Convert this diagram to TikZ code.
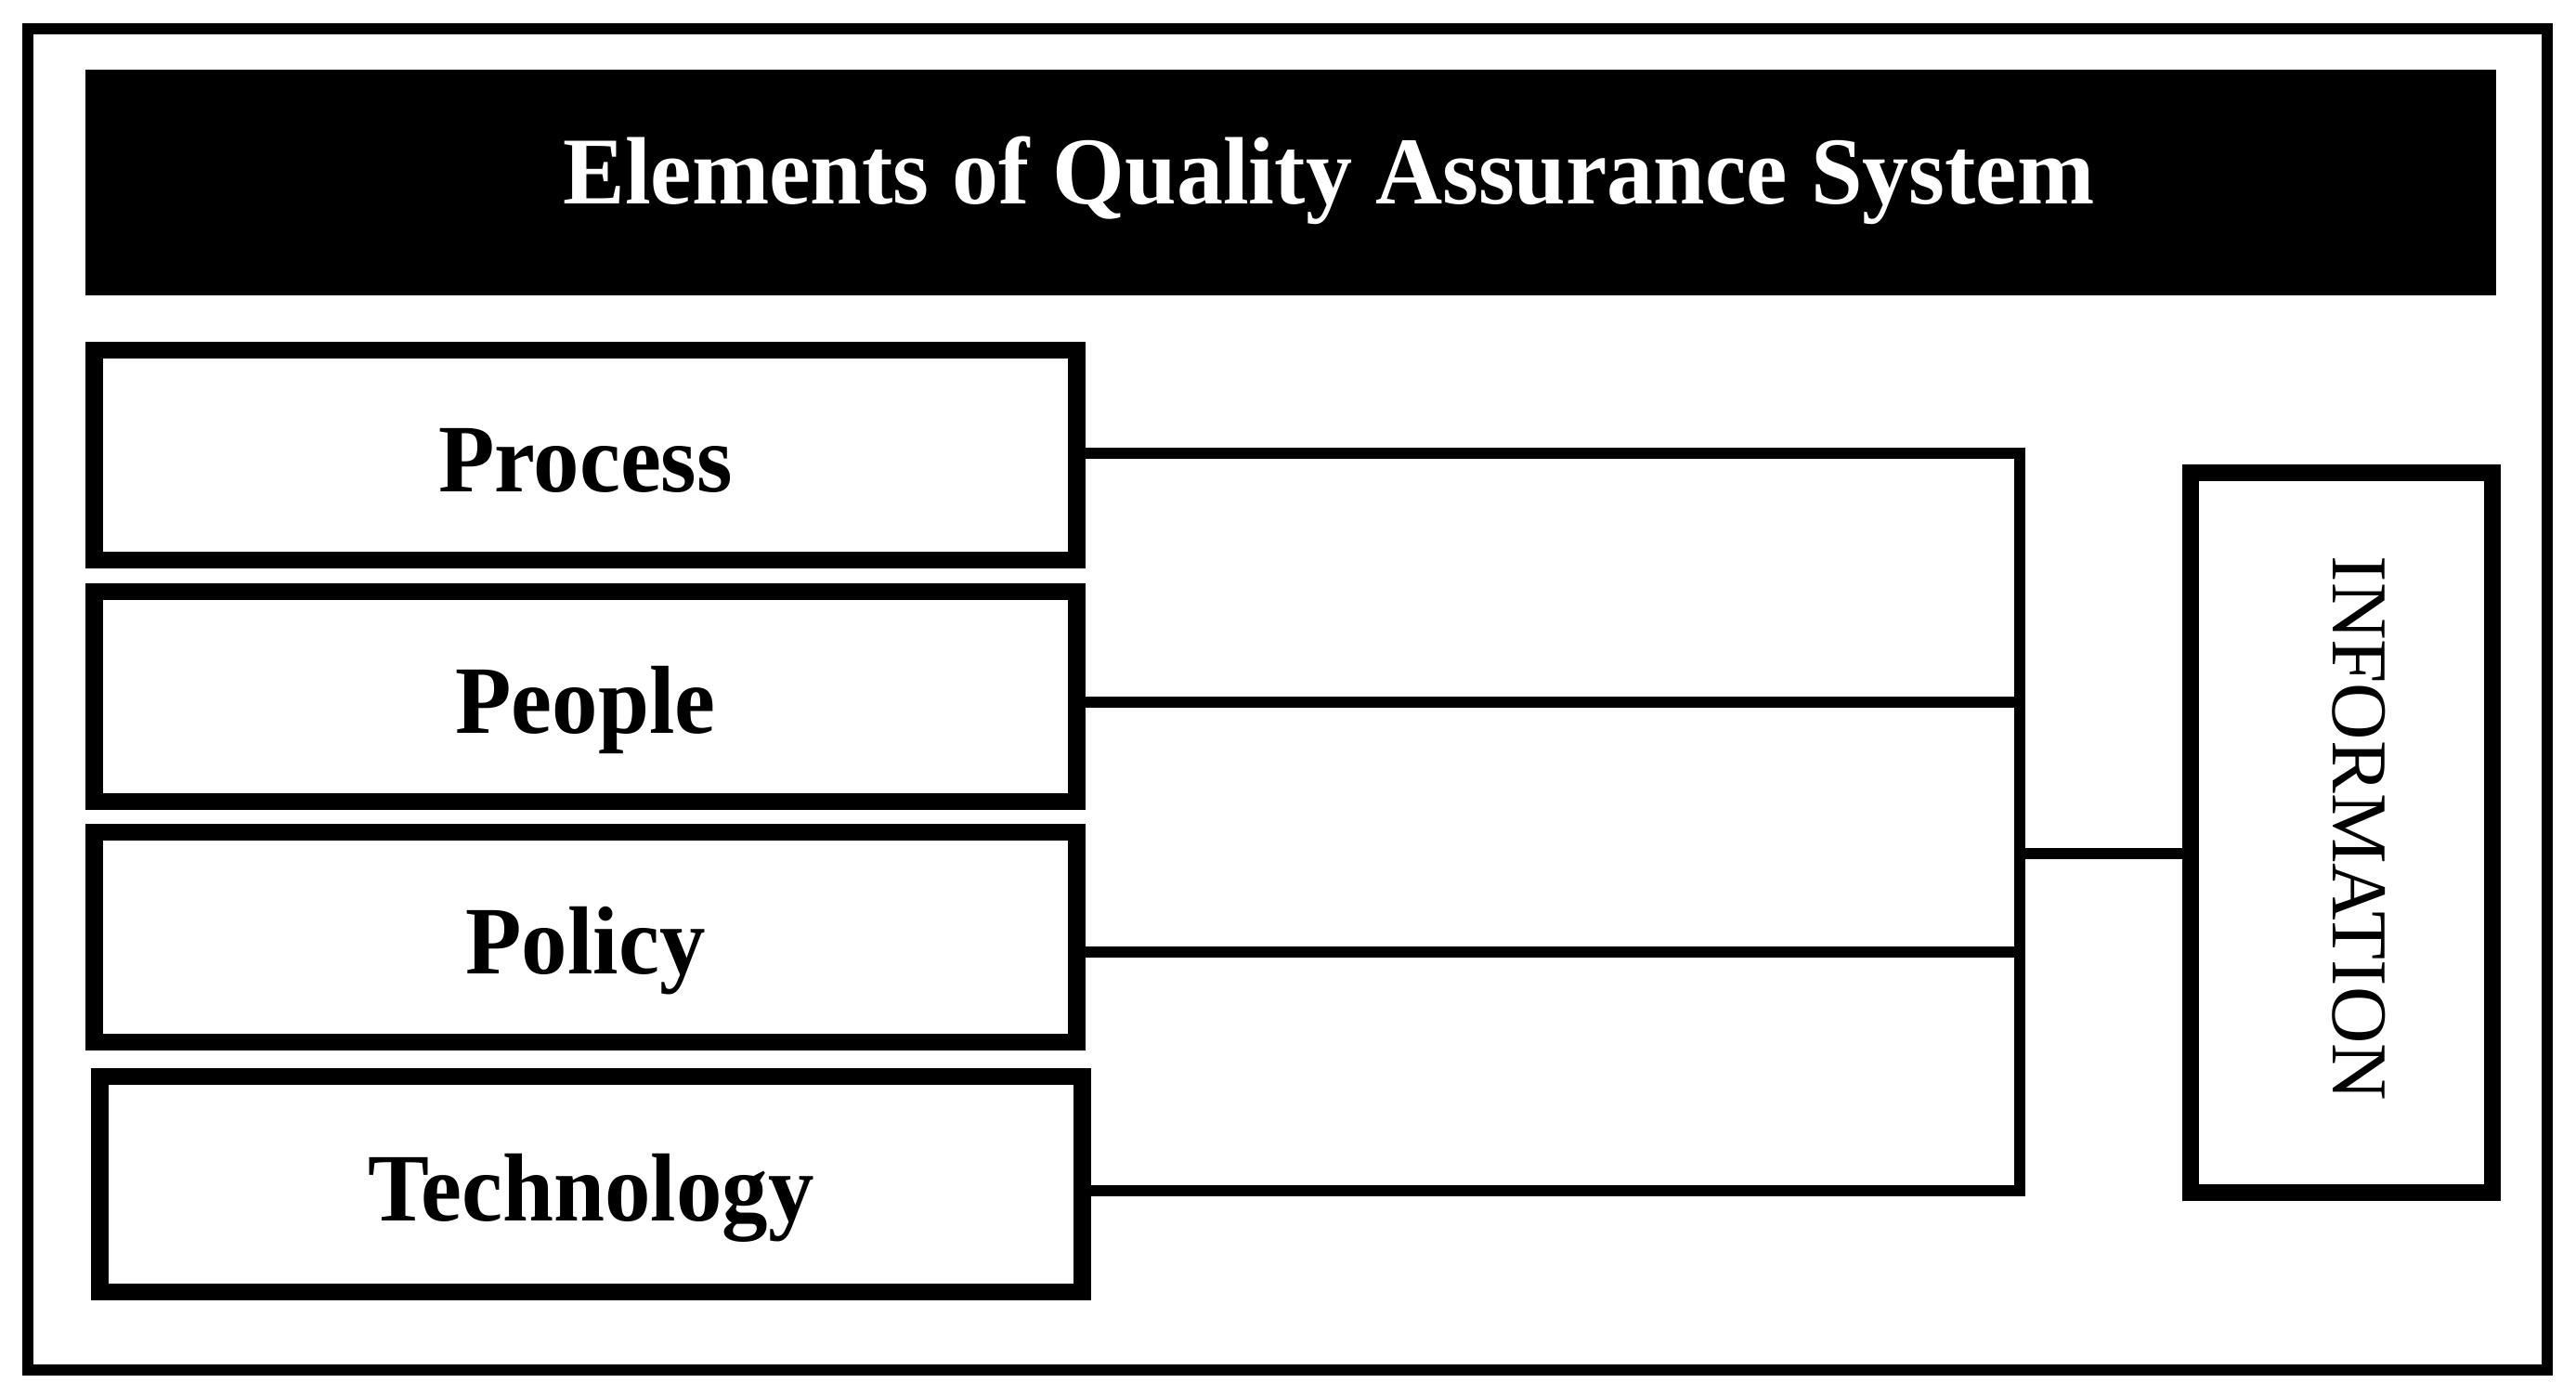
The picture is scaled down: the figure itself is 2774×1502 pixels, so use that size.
\documentclass[tikz,border=0pt]{standalone}
\usepackage{fontspec}
\setmainfont{Liberation Serif}
\begin{document}
\begin{tikzpicture}[x=0.01cm,y=-0.01cm,
  frame/.style={line width=0.12cm},
  elbox/.style={draw,line width=0.185cm,inner sep=0pt,minimum width=10.57cm,minimum height=2.26cm,
     text height=0.79cm,text depth=0pt,font=\fontsize{29.6}{32}\selectfont\bfseries},
  conn/.style={line width=0.12cm,line join=miter}]
\useasboundingbox (0,0) rectangle (2774,1502);
\draw[frame] (30,31) rectangle (2743,1475);
\node[fill=black,inner sep=0pt,minimum width=25.94cm,minimum height=2.43cm] (head) at (1390,196.5) {};
\node[anchor=base,text=white,inner sep=0pt,font=\fontsize{29.3}{32}\selectfont\bfseries] (title) at (1431,219)
  {\scalebox{0.97}[1]{Elements of Quality Assurance System}};
\node[elbox] (proc) at (630.5,490) {\scalebox{0.95}[1]{Process}};
\node[elbox] (peop) at (630.5,750) {\scalebox{0.95}[1]{People}};
\node[elbox,minimum height=2.26cm] (poli) at (630.5,1009) {\scalebox{0.95}[1]{Policy}};
\node[elbox,minimum height=2.32cm] (tech) at (636.5,1275) {\scalebox{0.95}[1]{Technology}};
\node[draw,line width=0.185cm,inner sep=0pt,minimum width=3.25cm,minimum height=7.75cm] (info) at (2521.5,896.5) {};
\node[anchor=base,rotate=-90,inner sep=0pt,font=\fontsize{24.2}{26}\selectfont] (infotext) at (2512,892) {INFORMATION};
\coordinate (b1) at (2175,488);
\coordinate (b2) at (2175,756);
\coordinate (b3) at (2175,1025);
\coordinate (b4) at (2175,1282);
\coordinate (bm) at (2175,919);
\draw[conn] (b1 -| proc.east) -- (b1) -- (b4) -- (b4 -| tech.east);
\draw[conn] (b2 -| peop.east) -- (b2);
\draw[conn] (b3 -| poli.east) -- (b3);
\draw[conn] (bm) -- (bm -| info.west);
\end{tikzpicture}
\end{document}
